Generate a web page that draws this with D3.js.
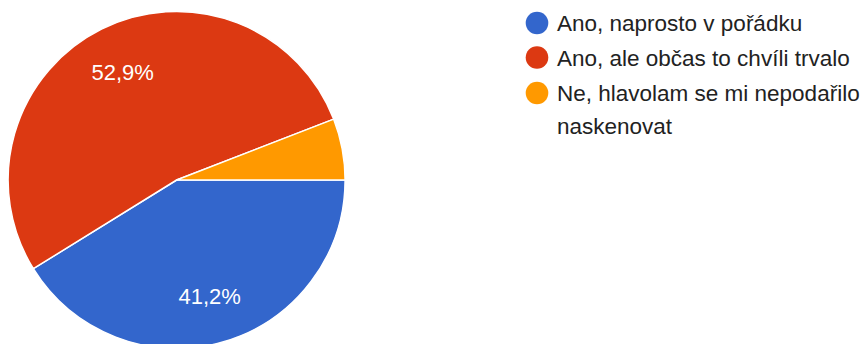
<!DOCTYPE html>
<html>
<head>
<meta charset="utf-8">
<script src="https://cdn.jsdelivr.net/npm/d3@7"></script>
<style>
  html, body { margin: 0; padding: 0; background: #fff; }
  svg { display: block; font-family: "Liberation Sans", Arial, sans-serif; }
</style>
</head>
<body>
<svg id="chart" width="862" height="344"></svg>
<script>
// Survey answers and their response counts
const categories = [
  "Ano, naprosto v pořádku",
  "Ano, ale občas to chvíli trvalo",
  "Ne, hlavolam se mi nepodařilo naskenovat"
];
const counts = [7, 9, 1];
const colors = ["#3366cc", "#dc3912", "#ff9900"];

const data = categories.map((c, i) => ({ label: c, value: counts[i], color: colors[i] }));
const total = d3.sum(counts);

const svg = d3.select("#chart");
const cx = 176.6, cy = 180, r = 168.5;

// Slices run clockwise starting from 3 o'clock
const pie = d3.pie()
  .sort(null)
  .value(d => d.value)
  .startAngle(Math.PI / 2)
  .endAngle(Math.PI / 2 + 2 * Math.PI);

const arc = d3.arc().innerRadius(0).outerRadius(r);
const labelArc = d3.arc().innerRadius(121).outerRadius(121);

const g = svg.append("g").attr("transform", `translate(${cx},${cy})`);
const arcs = pie(data);

g.selectAll("path.slice")
  .data(arcs)
  .join("path")
  .attr("class", "slice")
  .attr("d", arc)
  .attr("fill", d => d.data.color)
  .attr("stroke", "#fff")
  .attr("stroke-width", 1.5)
  .attr("stroke-linejoin", "round");

const fmt = v => (v * 100).toFixed(1).replace(".", ",") + "%";

// Percentage labels only on slices large enough to hold them
g.selectAll("text.pct")
  .data(arcs.filter(d => d.data.value / total > 0.1))
  .join("text")
  .attr("class", "pct")
  .attr("transform", d => `translate(${labelArc.centroid(d)})`)
  .attr("text-anchor", "middle")
  .attr("dy", "0.36em")
  .attr("fill", "#fff")
  .style("font-size", "22px")
  .text(d => fmt(d.data.value / total));

// Legend
const legendX = 537, textX = 557, maxW = 862 - textX;
const itemY = [23, 57.5, 93];
const lineH = 33;

const items = svg.append("g").selectAll("g.item")
  .data(data)
  .join("g")
  .attr("class", "item")
  .attr("transform", (d, i) => `translate(0,${itemY[i]})`);

items.append("circle")
  .attr("cx", legendX)
  .attr("cy", 0)
  .attr("r", 11.3)
  .attr("fill", d => d.color);

items.each(function(d) {
  const t = d3.select(this).append("text")
    .attr("x", textX)
    .attr("y", 0)
    .attr("fill", "#222")
    .style("font-size", "22.5px");
  const words = d.label.split(" ");
  let line = [];
  let lineNo = 0;
  let tspan = t.append("tspan").attr("x", textX).attr("y", 8);
  words.forEach(w => {
    line.push(w);
    tspan.text(line.join(" "));
    if (tspan.node().getComputedTextLength() > maxW && line.length > 1) {
      line.pop();
      tspan.text(line.join(" "));
      line = [w];
      lineNo++;
      tspan = t.append("tspan").attr("x", textX).attr("y", 8 + lineNo * lineH).text(w);
    }
  });
});
</script>
</body>
</html>
